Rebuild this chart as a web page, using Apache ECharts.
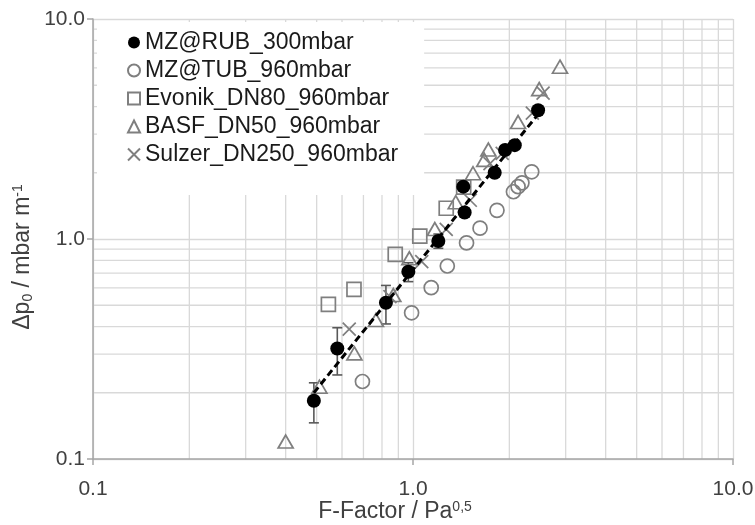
<!DOCTYPE html>
<html>
<head>
<meta charset="utf-8">
<script src="https://cdn.jsdelivr.net/npm/echarts@6/dist/echarts.min.js"></script>
<style>
html,body{margin:0;padding:0;background:#fff;}
#chart{width:755px;height:525px;}
</style>
</head>
<body>
<div id="chart"></div>
<script>
// ---- data ----
const seriesNames = ['MZ@RUB_300mbar', 'MZ@TUB_960mbar', 'Evonik_DN80_960mbar', 'BASF_DN50_960mbar', 'Sulzer_DN250_960mbar'];

const rubX = [0.49, 0.58, 0.823, 0.967, 1.20, 1.45, 1.436, 1.80, 1.94, 2.08, 2.46];
const rubY = [0.184, 0.318, 0.513, 0.71, 0.98, 1.32, 1.73, 2.00, 2.54, 2.67, 3.85];
const rubErr = [0.038, 0.077, 0.102, 0.07, 0.073, 0.06, 0.06, 0.08, 0.08, 0.08, 0.1];

const tubX = [0.695, 0.99, 1.14, 1.28, 1.47, 1.62, 1.83, 2.06, 2.13, 2.19, 2.35];
const tubY = [0.225, 0.462, 0.601, 0.754, 0.96, 1.12, 1.35, 1.64, 1.73, 1.80, 2.02];

const evoX = [0.544, 0.654, 0.88, 1.05, 1.27, 1.44];
const evoY = [0.505, 0.59, 0.852, 1.03, 1.38, 1.72];

const basfX = [0.40, 0.51, 0.656, 0.766, 0.868, 0.974, 1.17, 1.36, 1.54, 1.67, 1.72, 2.13, 2.48, 2.88];
const basfY = [0.12, 0.213, 0.302, 0.428, 0.556, 0.817, 1.11, 1.47, 1.99, 2.29, 2.55, 3.40, 4.80, 6.07];

const sulX = [0.632, 0.847, 1.065, 1.27, 1.51, 1.74, 1.90, 2.36, 2.55];
const sulY = [0.389, 0.547, 0.789, 1.107, 1.50, 2.20, 2.45, 3.73, 4.60];

// trend line end points (straight line on log-log axes)
const trendX = [0.49, 2.50];
const trendY = [0.20, 3.80];

// axis ticks
const majorTicks = [0.1, 1, 10];
const minorTicks = [0.2, 0.3, 0.4, 0.5, 0.6, 0.7, 0.8, 0.9, 2, 3, 4, 5, 6, 7, 8, 9];

// ---- build ----
const zip = (a, b) => a.map((v, i) => [v, b[i]]);
const GRAY = '#7f7f7f';
const GRID = '#d9d9d9';
const FONT = 'Liberation Sans, Arial, sans-serif';

const chart = echarts.init(document.getElementById('chart'), null, {renderer: 'canvas'});

function gridRender(vertical) {
  return function (params, api) {
    const v = api.value(vertical ? 0 : 1);
    const p1 = vertical ? api.coord([v, 0.1]) : api.coord([0.1, v]);
    const p2 = vertical ? api.coord([v, 10]) : api.coord([10, v]);
    return {type: 'line', shape: {x1: p1[0], y1: p1[1], x2: p2[0], y2: p2[1]},
            style: {stroke: GRID, lineWidth: 1.3}, silent: true};
  };
}

const openStyle = {color: 'rgba(255,255,255,0)', borderColor: GRAY, borderWidth: 1.7, opacity: 1};

const option = {
  animation: false,
  backgroundColor: '#fff',
  textStyle: {fontFamily: FONT},
  grid: {left: 93, right: 22, top: 19, bottom: 66, containLabel: false, outerBoundsMode: 'none'},
  legend: {
    data: seriesNames.map(n => ({name: n})),
    orient: 'vertical',
    left: 97, top: 22,
    backgroundColor: '#fff',
    padding: [9, 26, 29, 30],
    itemGap: 5,
    itemWidth: 12, itemHeight: 12,
    textStyle: {fontSize: 23, color: '#1a1a1a', fontFamily: FONT, lineHeight: 23},
    z: 10
  },
  xAxis: {
    type: 'log', logBase: 10, min: 0.1, max: 10,
    name: '{n|F-Factor / Pa}{sup|0,5}',
    nameLocation: 'middle', nameGap: 41, nameMoveOverlap: false,
    nameTextStyle: {padding: [0, 36, 0, 0], rich: {
      n: {fontSize: 23, color: '#404040', fontFamily: FONT},
      sup: {fontSize: 14, color: '#404040', verticalAlign: 'top', fontFamily: FONT, padding: [0, 0, 10, 0]}
    }},
    axisLine: {show: true, lineStyle: {color: '#a6a6a6', width: 1.5}},
    axisTick: {show: true, length: 6, inside: false, lineStyle: {color: '#a6a6a6', width: 1.5}},
    axisLabel: {fontSize: 21, color: '#404040', margin: 20, formatter: v => Number(v).toFixed(1)},
    splitLine: {show: true, lineStyle: {color: GRID, width: 1.3}},
    minorTick: {show: false}, minorSplitLine: {show: false}
  },
  yAxis: {
    type: 'log', logBase: 10, min: 0.1, max: 10,
    name: '{n|Δp}{sub|0}{n| / mbar m}{sup|-1}',
    nameLocation: 'middle', nameGap: 58, nameRotate: 90, nameMoveOverlap: false,
    nameTextStyle: {padding: [0, 36, 0, 0], rich: {
      n: {fontSize: 23, color: '#404040', fontFamily: FONT},
      sub: {fontSize: 14, color: '#404040', verticalAlign: 'bottom', fontFamily: FONT, padding: [7, 0, 0, 0]},
      sup: {fontSize: 14, color: '#404040', verticalAlign: 'top', fontFamily: FONT, padding: [0, 0, 10, 0]}
    }},
    axisLine: {show: true, lineStyle: {color: '#a6a6a6', width: 1.5}},
    axisTick: {show: true, length: 6, inside: false, lineStyle: {color: '#a6a6a6', width: 1.5}},
    axisLabel: {fontSize: 21, color: '#404040', margin: 8, formatter: v => Number(v).toFixed(1)},
    splitLine: {show: true, lineStyle: {color: GRID, width: 1.3}},
    minorTick: {show: false}, minorSplitLine: {show: false}
  },
  series: [
    {type: 'custom', name: 'gridV', silent: true, z: 0, renderItem: gridRender(true),
     data: minorTicks.map(v => [v, 1]), encode: {x: 0, y: 1}, tooltip: {show: false}},
    {type: 'custom', name: 'gridH', silent: true, z: 0, renderItem: gridRender(false),
     data: minorTicks.map(v => [1, v]), encode: {x: 0, y: 1}, tooltip: {show: false}},
    {type: 'custom', name: 'err', z: 3, silent: true,
     data: rubX.map((x, i) => [x, rubY[i] - rubErr[i], rubY[i] + rubErr[i]]),
     encode: {x: 0, y: [1, 2]},
     renderItem: function (params, api) {
       const x = api.value(0);
       const lo = api.coord([x, api.value(1)]);
       const hi = api.coord([x, api.value(2)]);
       const c = 5;
       const st = {stroke: '#595959', lineWidth: 1.6};
       return {type: 'group', children: [
         {type: 'line', shape: {x1: lo[0], y1: lo[1], x2: hi[0], y2: hi[1]}, style: st},
         {type: 'line', shape: {x1: lo[0] - c, y1: lo[1], x2: lo[0] + c, y2: lo[1]}, style: st},
         {type: 'line', shape: {x1: hi[0] - c, y1: hi[1], x2: hi[0] + c, y2: hi[1]}, style: st}
       ]};
     }},
    {type: 'scatter', name: seriesNames[3], symbol: 'triangle', symbolSize: [15, 13], z: 4,
     data: zip(basfX, basfY), itemStyle: openStyle},
    {type: 'scatter', name: seriesNames[2], symbol: 'rect', symbolSize: 14, z: 4,
     data: zip(evoX, evoY), itemStyle: openStyle},
    {type: 'scatter', name: seriesNames[1], symbol: 'circle', symbolSize: 14, z: 4,
     data: zip(tubX, tubY), itemStyle: openStyle},
    {type: 'scatter', name: seriesNames[4], symbol: 'path://M0,0L10,10M10,0L0,10', symbolSize: 13, z: 4,
     data: zip(sulX, sulY), itemStyle: openStyle},
    {type: 'scatter', name: seriesNames[0], symbol: 'circle', symbolSize: 14, z: 5,
     data: zip(rubX, rubY),
     itemStyle: {color: '#000', borderColor: '#000', borderWidth: 0, opacity: 1}},
    {type: 'line', name: 'trend', z: 6, symbol: 'none', silent: true,
     data: zip(trendX, trendY),
     lineStyle: {color: '#000', width: 3, type: [7, 4]}}
  ]
};
chart.setOption(option);
</script>
</body>
</html>
